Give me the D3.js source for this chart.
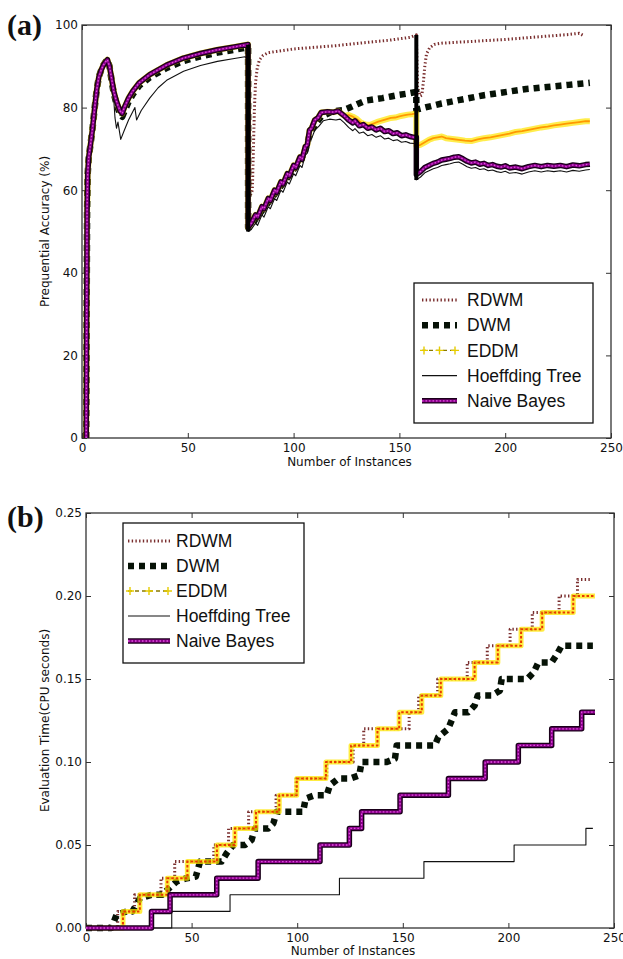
<!DOCTYPE html>
<html>
<head>
<meta charset="utf-8">
<script src="https://cdn.jsdelivr.net/npm/d3@7"></script>
<style>
  body { margin: 0; background: #fff; }
  svg { display: block; }
</style>
</head>
<body>
<svg id="fig" width="623" height="959"></svg>
<script>
// ---------- Data: prequential accuracy (%) vs number of instances ----------
const seriesNames = ["RDWM", "DWM", "EDDM", "Hoeffding Tree", "Naive Bayes"];

// shared start-up curve of the learners before the first drift
const warmupAcc = [[2,0],[2.2,30],[2.4,55],[2.7,64],[3.2,68],[4,71],[5,75],[6,80],[7,84.5],[8,87.5],[9,89],
  [10,90.2],[11,91],[12,91.6],[13,90],[14,87],[15,84],[16,82],[17,80.5],[18,79.2],[19,78.6],[20,80],
  [22,82.3],[24,84],[27,86],[32,88],[40,90.3],[48,92],[56,93.1],[64,94],[72,94.7],[78.5,95.3]];

const nbAcc = warmupAcc.concat([[78.5,51],[80,52],[82,54],[83,53.5],[85,56],[86,55.5],[88,58],[89,57.5],
  [91,60],[92,59.5],[94,62],[95,61.5],[97,64],[98,63.5],[100,66],[101,65.5],[103,68],[104,67.5],
  [105.5,70.5],[106.5,71],[107.5,74.5],[108.5,75],[110,77],[111.5,77.5],[113,78.8],[116,79],[119,78.9],
  [121,79.2],[122,78.8],[124,78],[126,77],[128,76.3],[129,76.8],[131,75.6],[133,75.9],[135,75],[137,75.3],
  [139,74.6],[141,75],[143,74.2],[145,74.4],[147,73.7],[149,73.9],[151,73.2],[153,73.4],[155,73],[157,72.8],
  [158,72.8],[158,63.8],[160,64.5],[162,65.5],[164,66],[166,66.5],[168,66.8],[170,67.3],[172,67.5],
  [174,67.7],[176,68],[178,68.1],[180,67.6],[182,67],[184,66.6],[186,66.8],[188,66.3],[190,66.5],[192,66],
  [194,66.2],[196,65.8],[198,65.6],[200,65.9],[202,65.4],[205,65.6],[208,65.2],[211,65.7],[214,66],
  [217,65.7],[220,66],[223,65.8],[226,66],[229,65.7],[232,66.1],[235,65.9],[238,66.2],[240,66.3]]);

const rdwmAcc = warmupAcc.concat([[79,58],[80.5,60],[81,70],[81.5,80],[82,86],[82.8,89.5],[83.8,91.5],
  [85.5,92.6],[88,93.3],[92,93.6],[100,94.2],[110,94.6],[120,95],[133,95.7],[145,96.3],[155,97],[157,97.4],
  [158,97.6],[158.6,85],[159.8,82.8],[160.6,83],[161.3,86],[162,90],[162.8,93],[164.3,94.5],[166.5,95.3],
  [170,95.6],[180,95.9],[190,96.2],[200,96.5],[210,96.9],[220,97.3],[230,97.7],[235,98],[237.5,97.3]]);

const dwmAcc = [[2,0],[2.2,30],[2.4,55],[2.7,64],[3.2,68],[4,71],[5,75],[6,80],[7,84.5],[8,87.5],[9,89],
  [10,90.2],[11,91],[12,91.6],[13,90],[14,86.5],[15,83.5],[16,81.5],[17,79.8],[18,78.3],[19,77.8],[20,79],
  [22,81.4],[24,83.2],[27,85.3],[32,87.3],[40,89.6],[48,91.3],[56,92.4],[64,93.3],[72,94],[78.5,94.6],
  [78.5,51],[80,51.3],[82,53],[85,55],[88,57],[91,59],[94,61],[97,63],[100,65],[103,67],[105.5,69.5],
  [107.5,73.3],[110,75.8],[113,77.8],[116,78.5],[118,79],[120,79.2],[123.5,79.4],[126,79.9],
  [130,80.8],[134,81.7],[138,82],[142,82.3],[146,82.7],[150,83.1],[154,83.4],[158,83.8],[158,79.5],
  [162,80],[166,80.5],[170,81],[174,81.4],[178,81.8],[182,82.2],[186,82.6],[190,83],[194,83.3],[198,83.6],
  [202,83.9],[206,84.2],[210,84.5],[214,84.7],[218,84.9],[222,85.1],[226,85.3],[230,85.5],[234,85.7],
  [238,85.9],[240,86]];

const eddmAcc = nbAcc.filter(p => p[0] <= 122).concat([[124,78],[126,78.2],[128,77.8],[130,77.2],
  [132,76.3],[134,75.9],[136,75.8],[138,76.2],[140,76.6],[142,76.9],[144,77.2],[146,77.5],[148,77.6],
  [150,77.9],[152,78.1],[154,78.3],[156,78.4],[158,78.6],[158,70.8],[160,71],[162,71.6],[164,72.2],
  [166,72.6],[168,72.8],[170,73],[172,72.6],[175,72.4],[178,72.2],[181,72],[184,71.9],[187,72.3],[190,72.6],
  [193,72.8],[196,73.1],[199,73.4],[202,73.7],[205,74.1],[208,74.3],[211,74.6],[214,74.9],[217,75.2],
  [220,75.4],[223,75.7],[226,75.9],[229,76.1],[232,76.3],[235,76.5],[238,76.7],[240,76.7]]);

const htAcc = warmupAcc.slice(0, 15).concat([[15,82],[15.6,77.5],[16.3,75],[17,76.5],[18.3,72.3],
  [20,74.5],[22,77],[25,80],[25.8,77],[28,79.3],[32,82.3],[36,84.8],[40,86.6],[48,88.8],[56,90.2],
  [64,91.2],[72,91.9],[77,92.3],[78.5,91.8],[78.5,50],[80,50.5],[82,52],[83,51.5],[85,54],[86,53.5],
  [88,56],[89,55.5],[91,58],[92,57.5],[94,60],[95,59.5],[97,62],[98,61.5],[100,64],[101,63.5],[103,66],
  [104,65.5],[105.5,68.5],[106.5,69],[107.5,72],[108.5,72.5],[110,74.5],[112,75.5],[114,76.8],[117,77.2],
  [120,77],[122,77.2],[124,76.3],[126,75.2],[128,74.4],[129,74.9],[131,73.8],[133,74.1],[135,73.2],
  [137,73.5],[139,72.8],[141,73.2],[143,72.4],[145,72.6],[147,72],[149,72.2],[151,71.6],[153,71.8],
  [155,71.4],[157,71.3],[158,71.3],[158,62.5],[160,63.2],[162,64.2],[164,64.7],[166,65.2],[168,65.5],
  [170,66],[172,66.2],[174,66.4],[176,66.7],[178,66.8],[180,66.3],[182,65.7],[184,65.3],[186,65.5],
  [188,65],[190,65.2],[192,64.7],[194,64.9],[196,64.5],[198,64.3],[200,64.6],[202,64.1],[205,64.3],
  [208,63.9],[211,64.4],[214,64.7],[217,64.4],[220,64.7],[223,64.5],[226,64.7],[229,64.4],[232,64.8],
  [235,64.6],[238,64.9],[240,65]]);

// concept drift positions (instances)
const driftPoints = [78.5, 158];

// ---------- Data: evaluation time (CPU seconds), step values ----------
const rdwmTime = [[0,0],[15,0.01],[23,0.02],[35.5,0.03],[42,0.04],[60.5,0.05],[67.5,0.06],[77,0.07],
  [90,0.08],[99.5,0.09],[114,0.10],[126.5,0.11],[131.5,0.12],[153,0.13],[157.5,0.14],[166.5,0.15],
  [180.5,0.16],[190,0.17],[200.8,0.18],[211.3,0.19],[224,0.20],[232.7,0.21],[239.5,0.21]];
const dwmTime = [[0,0],[12,0],[14.5,0.008],[19.3,0.01],[22,0.01],[25.6,0.018],[31,0.02],[36,0.02],
  [42.9,0.028],[47.7,0.03],[52,0.031],[54,0.04],[64.2,0.04],[66.6,0.045],[69.7,0.05],[75.3,0.05],
  [78.4,0.053],[80,0.06],[86.3,0.06],[88.7,0.063],[90.3,0.07],[97,0.07],[102.8,0.07],[104,0.078],
  [108.4,0.08],[114,0.08],[115.5,0.086],[119.5,0.09],[125,0.09],[129.4,0.092],[130.5,0.1],[136.5,0.1],
  [142.4,0.1],[146.3,0.102],[147.1,0.11],[153.4,0.11],[158.9,0.11],[165.2,0.11],[166.8,0.115],
  [171.5,0.12],[174.7,0.13],[181,0.13],[184,0.134],[185.5,0.14],[192,0.14],[196,0.143],[196.8,0.15],
  [203,0.15],[208.9,0.15],[212,0.154],[214.2,0.16],[220.5,0.16],[222.8,0.1645],[225.2,0.17],[231.5,0.17],
  [237,0.17],[240,0.17]];
const eddmTime = [[0,0],[17.5,0.01],[25.5,0.02],[38.5,0.03],[48,0.04],[62,0.05],[70.5,0.06],[80.5,0.07],
  [91.5,0.08],[99.8,0.09],[113.6,0.10],[125.5,0.11],[138,0.12],[148.3,0.13],[159,0.14],[168,0.15],
  [184,0.16],[195,0.17],[206,0.18],[216,0.19],[230.7,0.20],[241,0.20]];
const htTime = [[0,0],[40.6,0.01],[68.2,0.02],[120,0.03],[160,0.04],[202.7,0.05],[236.7,0.06],[240,0.06]];
const nbTime = [[0,0],[31,0.01],[39.8,0.02],[61.9,0.03],[81.5,0.04],[110.8,0.05],[124.7,0.06],
  [130.5,0.07],[148.7,0.08],[171.6,0.09],[189,0.10],[204.7,0.11],[220.5,0.12],[234.7,0.13],[241,0.13]];

// ---------- Tick labels ----------
const xTickValues = [0, 50, 100, 150, 200, 250];
const accTickValues = [0, 20, 40, 60, 80, 100];
const timeTickValues = [0, 0.05, 0.10, 0.15, 0.20, 0.25];

// ---------- Styles ----------
const styles = {
  "RDWM": [{stroke: "#7a2e2e", width: 3, dash: "1.4,2.3"}],
  "DWM": [{stroke: "#061206", width: 6.5, dash: "6,5"}],
  "EDDM": [{stroke: "#ffe600", width: 6, opacity: 0.7}, {stroke: "#ff9800", width: 1.8}],
  "Hoeffding Tree": [{stroke: "#111", width: 1.1}],
  "Naive Bayes": [{stroke: "#1a001a", width: 5.5}, {stroke: "#8a008a", width: 2.8},
                  {stroke: "#e050e0", width: 1.3, dash: "1.5,2"}]
};
const eddmTimeStyle = [{stroke: "#ffe600", width: 5, opacity: 0.75},
                       {stroke: "#e83a00", width: 2, dash: "2.5,2"}];
const eddmLegendStyle = [{stroke: "#8a7a00", width: 1.4, dash: "4,3"}];

const svg = d3.select("#fig");
const tickFont = "'DejaVu Sans', sans-serif";

function drawFrame(g, x, y, box, yFmt, xTicks, yTicks) {
  const styleAxis = s => {
    s.select(".domain").remove();
    s.selectAll(".tick line").attr("stroke", "#333").attr("stroke-width", 1);
    s.selectAll("text").attr("fill", "#111").attr("font-family", tickFont).attr("font-size", 12);
  };
  g.append("g").attr("transform", `translate(0,${box.bottom})`)
    .call(d3.axisBottom(x).tickValues(xTicks).tickSize(-5).tickPadding(5).tickFormat(d3.format("d")))
    .call(styleAxis);
  g.append("g").attr("transform", `translate(${box.left},0)`)
    .call(d3.axisLeft(y).tickValues(yTicks).tickSize(-5).tickPadding(4).tickFormat(yFmt))
    .call(styleAxis);
  g.append("g").attr("transform", `translate(0,${box.top})`)
    .call(d3.axisTop(x).tickValues(xTicks).tickSize(-5).tickFormat(""))
    .call(styleAxis);
  g.append("g").attr("transform", `translate(${box.right},0)`)
    .call(d3.axisRight(y).tickValues(yTicks).tickSize(-5).tickFormat(""))
    .call(styleAxis);
  g.append("rect")
    .attr("x", box.left).attr("y", box.top)
    .attr("width", box.right - box.left).attr("height", box.bottom - box.top)
    .attr("fill", "none").attr("stroke", "#333").attr("stroke-width", 1.3);
}

function drawSeries(g, pts, layers, x, y, curve) {
  const line = d3.line().x(d => x(d[0])).y(d => y(d[1])).curve(curve);
  layers.forEach(l => {
    g.append("path").datum(pts)
      .attr("d", line)
      .attr("fill", "none")
      .attr("stroke", l.stroke)
      .attr("stroke-width", l.width)
      .attr("stroke-opacity", l.opacity || 1)
      .attr("stroke-dasharray", l.dash || null)
      .attr("stroke-linejoin", "round");
  });
}

function drawLegend(g, lg, layerSets) {
  g.append("rect").attr("x", lg.x).attr("y", lg.y).attr("width", lg.w).attr("height", lg.h)
    .attr("fill", "#fff").attr("stroke", "#111").attr("stroke-width", 1.3);
  seriesNames.forEach((name, i) => {
    const cy = lg.row0 + i * lg.step;
    layerSets[i].forEach(l => {
      g.append("line").attr("x1", lg.h0).attr("x2", lg.h1).attr("y1", cy).attr("y2", cy)
        .attr("stroke", l.stroke).attr("stroke-width", l.width)
        .attr("stroke-opacity", l.opacity || 1)
        .attr("stroke-dasharray", l.dash || null);
    });
    if (name === "EDDM") {
      d3.range(3).forEach(k => {
        const px = lg.h0 + 2 + k * (lg.h1 - lg.h0 - 4) / 2;
        g.append("path").attr("d", `M${px - 4},${cy}H${px + 4}M${px},${cy - 4}V${cy + 4}`)
          .attr("stroke", "#e6cc00").attr("stroke-width", 1.4);
      });
    }
    g.append("text").attr("x", lg.tx).attr("y", cy + 6.2)
      .attr("font-family", "'Liberation Sans', Arial, sans-serif").attr("font-size", 17.5)
      .attr("fill", "#111").text(name);
  });
}

// ---------- Panel (a): prequential accuracy ----------
{
  const box = {left: 82, right: 611, top: 25, bottom: 438};
  const x = d3.scaleLinear().domain([0, 250]).range([box.left, box.right]);
  const y = d3.scaleLinear().domain([0, 100]).range([box.bottom, box.top]);
  const g = svg.append("g");
  drawFrame(g, x, y, box, d3.format("d"), xTickValues, accTickValues);

  const data = [rdwmAcc, dwmAcc, eddmAcc, htAcc, nbAcc];
  data.forEach((pts, i) => drawSeries(g, pts, styles[seriesNames[i]], x, y, d3.curveLinear));

  // vertical drift markers spanning all learners at each drift position
  driftPoints.forEach(d => {
    const vals = data.flatMap(pts => pts.filter(p => Math.abs(p[0] - d) < 1).map(p => p[1]));
    const [lo, hi] = d3.extent(vals);
    g.append("line").attr("x1", x(d)).attr("x2", x(d)).attr("y1", y(hi)).attr("y2", y(lo))
      .attr("stroke", "#000").attr("stroke-width", 4);
  });

  g.append("text").attr("x", (box.left + box.right) / 2 + 3).attr("y", 466)
    .attr("text-anchor", "middle").attr("font-family", tickFont).attr("font-size", 12)
    .attr("fill", "#111").text("Number of Instances");
  g.append("text").attr("transform", `translate(49,${(box.top + box.bottom) / 2}) rotate(-90)`)
    .attr("text-anchor", "middle").attr("font-family", tickFont).attr("font-size", 12)
    .attr("fill", "#111").text("Prequential Accuracy (%)");

  drawLegend(g, {x: 414, y: 283, w: 179, h: 140, row0: 300, step: 25.2, h0: 422, h1: 457, tx: 467},
    [styles["RDWM"], styles["DWM"], eddmLegendStyle, styles["Hoeffding Tree"], styles["Naive Bayes"]]);

  svg.append("text").attr("x", 7).attr("y", 34.5)
    .attr("font-family", "'Liberation Serif', 'Times New Roman', serif").attr("font-weight", "bold")
    .attr("font-size", 30).attr("fill", "#111").text("(a)");
}

// ---------- Panel (b): evaluation time ----------
{
  const box = {left: 86, right: 614, top: 513, bottom: 928};
  const x = d3.scaleLinear().domain([0, 250]).range([box.left, box.right]);
  const y = d3.scaleLinear().domain([0, 0.25]).range([box.bottom, box.top]);
  const g = svg.append("g");
  drawFrame(g, x, y, box, d3.format(".2f"), xTickValues, timeTickValues);

  drawSeries(g, rdwmTime, styles["RDWM"], x, y, d3.curveStepAfter);
  drawSeries(g, dwmTime, styles["DWM"], x, y, d3.curveLinear);
  drawSeries(g, eddmTime, eddmTimeStyle, x, y, d3.curveStepAfter);
  drawSeries(g, htTime, styles["Hoeffding Tree"], x, y, d3.curveStepAfter);
  drawSeries(g, nbTime, styles["Naive Bayes"], x, y, d3.curveStepAfter);

  g.append("text").attr("x", (box.left + box.right) / 2 + 3).attr("y", 955)
    .attr("text-anchor", "middle").attr("font-family", tickFont).attr("font-size", 12)
    .attr("fill", "#111").text("Number of Instances");
  g.append("text").attr("transform", `translate(49,${(box.top + box.bottom) / 2}) rotate(-90)`)
    .attr("text-anchor", "middle").attr("font-family", tickFont).attr("font-size", 12)
    .attr("fill", "#111").text("Evaluation Time(CPU seconds)");

  drawLegend(g, {x: 123, y: 523, w: 181, h: 140, row0: 541, step: 25, h0: 128, h1: 170, tx: 176},
    [styles["RDWM"], styles["DWM"], eddmLegendStyle, styles["Hoeffding Tree"], styles["Naive Bayes"]]);

  svg.append("text").attr("x", 7).attr("y", 526.5)
    .attr("font-family", "'Liberation Serif', 'Times New Roman', serif").attr("font-weight", "bold")
    .attr("font-size", 30).attr("fill", "#111").text("(b)");
}
</script>
</body>
</html>
